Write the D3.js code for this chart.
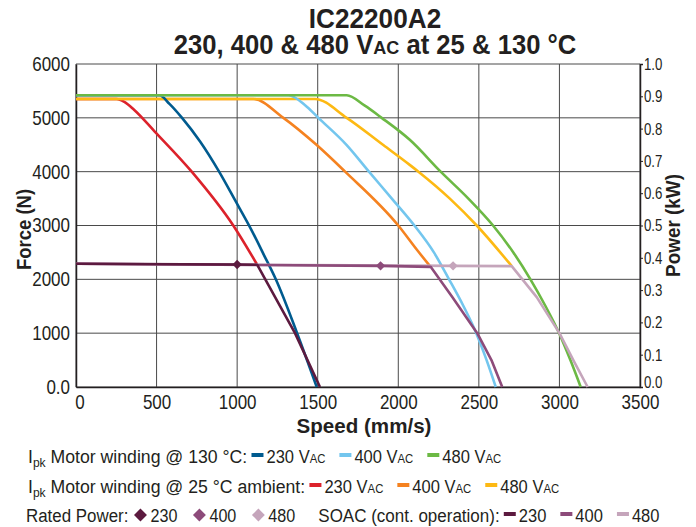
<!DOCTYPE html>
<html>
<head>
<meta charset="utf-8">
<script src="https://cdn.jsdelivr.net/npm/d3@7"></script>
<style>
  body { margin: 0; background: #fff; }
  svg text { font-family: "Liberation Sans", Arial, sans-serif; fill: #231f20; }
</style>
</head>
<body>
<div id="chart"></div>
<script>
// ---- data ----
const speedTicks = [0, 500, 1000, 1500, 2000, 2500, 3000, 3500]
const forceTicks = [0, 1000, 2000, 3000, 4000, 5000, 6000]
const powerTicks = [0, 0.1, 0.2, 0.3, 0.4, 0.5, 0.6, 0.7, 0.8, 0.9, 1.0]

// Ipk motor winding @ 130 °C  [speed mm/s, force N]
const hot230 = [[0, 5420], [517, 5420], [580, 5260], [658, 5000], [770, 4560], [888, 4000], [987, 3470], [1090, 2910], [1165, 2460], [1240, 2000], [1372, 1000], [1494, 0]]
const hot400 = [[0, 5420], [1318, 5420], [1420, 5240], [1504, 5000], [1680, 4494], [1818, 4000], [1960, 3500], [2100, 3000], [2221, 2500], [2315, 2000], [2405, 1500], [2484, 1000], [2548, 500], [2605, 0]]
const hot480 = [[0, 5420], [1680, 5420], [1790, 5230], [1897, 5000], [2073, 4587], [2263, 4000], [2435, 3500], [2588, 3000], [2714, 2500], [2820, 2000], [2914, 1500], [2998, 1000], [3068, 500], [3132, 0]]

// Ipk motor winding @ 25 °C ambient
const amb230 = [[0, 5350], [252, 5350], [300, 5295], [360, 5150], [490, 4740], [718, 4000], [976, 3000], [1121, 2290]]
const amb400 = [[0, 5350], [1100, 5350], [1287, 5000], [1494, 4494], [1670, 4000], [2000, 3000], [2118, 2540], [2201, 2230]]
const amb480 = [[0, 5350], [1483, 5350], [1680, 5000], [1907, 4494], [2073, 4122], [2125, 4000], [2320, 3500], [2487, 3000], [2704, 2245]]

// SOAC (continuous operation)
const soac230 = [[0, 2290], [1000, 2275], [1125, 2270], [1359, 1000], [1514, 0]]
const soac400 = [[0, 2290], [1890, 2250], [2201, 2232], [2335, 1670], [2490, 1000], [2578, 500], [2645, 0]]
const soac480 = [[0, 2290], [2340, 2250], [2704, 2245], [2859, 1670], [3000, 1000], [3086, 500], [3175, 0]]

// rated power points
const rated = [[1000, 2275], [1890, 2250], [2340, 2250]]

const voltages = ["230", "400", "480"]
const hotColors = ["#005b8f", "#73c6ee", "#6cb944"]
const ambColors = ["#dc222b", "#f58220", "#fdb913"]
const soacColors = ["#5c1a3f", "#8d4b7a", "#c5a5bb"]

;(function () {

  const margin = { top: 64, right: 56, bottom: 140, left: 76 }
  const width = 696 - margin.left - margin.right
  const height = 527 - margin.top - margin.bottom

  // squeeze text horizontally (the original uses a condensed face).
  // scales the text element along its own x axis; returns the new width
  function narrow (sel, k) {
    let total = 0
    sel.each(function () {
      const t = d3.select(this)
      const w = this.getComputedTextLength()
      const x0 = +t.attr("x") || 0
      const tf = t.attr("transform")
      t.attr("x", x0 / k)
       .attr("transform", (tf ? tf + " " : "") + "scale(" + k + ",1)")
      total += w * k
    })
    return total
  }

  const root = d3.select("#chart").append("svg")
      .attr("width", 696)
      .attr("height", 527)

  const svg = root.append("g")
      .attr("transform", "translate(" + margin.left + "," + margin.top + ")")

  const x = d3.scaleLinear().domain([0, 3500]).range([0, width])
  const y = d3.scaleLinear().domain([0, 6000]).range([height, 0])
  const yPower = d3.scaleLinear().domain([0, 1]).range([height, 0])

  // grid
  svg.append("g").selectAll("line")
    .data(speedTicks)
    .join("line")
    .attr("x1", d => x(d)).attr("x2", d => x(d))
    .attr("y1", 0).attr("y2", height)
    .attr("stroke", "#4a4a4a").attr("stroke-width", 1)

  svg.append("g").selectAll("line")
    .data(forceTicks)
    .join("line")
    .attr("x1", 0).attr("x2", width)
    .attr("y1", d => y(d)).attr("y2", d => y(d))
    .attr("stroke", "#4a4a4a").attr("stroke-width", 1)

  // axes
  const yAxis = d3.axisLeft(y).tickValues(forceTicks).tickSize(0).tickPadding(6)
    .tickFormat(d => d === 0 ? "0.0" : d)
  svg.append("g")
    .attr("class", "axis y-axis")
    .call(yAxis)
    .call(g => g.select(".domain").attr("stroke", "#231f20").attr("stroke-width", 1.5))
    .selectAll("text").attr("font-size", 20).attr("fill", "#3a3a3a")
    .call(narrow, 0.85)

  const xAxis = d3.axisBottom(x).tickValues(speedTicks).tickSize(0).tickPadding(8)
    .tickFormat(d => d)
  svg.append("g")
    .attr("class", "axis x-axis")
    .attr("transform", "translate(0," + height + ")")
    .call(xAxis)
    .call(g => g.select(".domain").attr("stroke", "#231f20").attr("stroke-width", 1.5))
    .call(g => g.selectAll(".tick text").filter(d => d === 0).attr("dx", 4))
    .selectAll("text").attr("font-size", 20).attr("fill", "#3a3a3a")
    .call(narrow, 0.85)

  const pAxis = d3.axisRight(yPower).tickValues(powerTicks).tickSize(3).tickPadding(1)
    .tickFormat(d3.format(".1f"))
  svg.append("g")
    .attr("class", "axis p-axis")
    .attr("transform", "translate(" + width + ",0)")
    .call(pAxis)
    .call(g => g.select(".domain").attr("stroke", "#231f20").attr("stroke-width", 1.5))
    .call(g => g.selectAll(".tick line").attr("stroke", "#231f20"))
    .call(g => g.selectAll(".tick text").filter(d => d === 0).attr("y", -5))
    .selectAll("text").attr("font-size", 17).attr("fill", "#3a3a3a")
    .call(narrow, 0.78)

  // curves
  const smooth = d3.line().x(d => x(d[0])).y(d => y(d[1])).curve(d3.curveMonotoneX)
  const straight = d3.line().x(d => x(d[0])).y(d => y(d[1]))

  const motorSeries = [
    [amb230, ambColors[0]], [amb400, ambColors[1]], [amb480, ambColors[2]],
    [hot230, hotColors[0]], [hot400, hotColors[1]], [hot480, hotColors[2]]
  ]
  svg.append("g").selectAll("path")
    .data(motorSeries)
    .join("path")
    .attr("d", d => smooth(d[0]))
    .attr("fill", "none")
    .attr("stroke", d => d[1])
    .attr("stroke-width", 2.6)

  const soacSeries = [[soac480, soacColors[2]], [soac400, soacColors[1]], [soac230, soacColors[0]]]
  svg.append("g").selectAll("path")
    .data(soacSeries)
    .join("path")
    .attr("d", d => straight(d[0]))
    .attr("fill", "none")
    .attr("stroke", d => d[1])
    .attr("stroke-width", 2.6)
    .attr("stroke-linejoin", "round")

  const diamond = d3.symbol(d3.symbolSquare)
  svg.append("g").selectAll("path")
    .data(rated)
    .join("path")
    .attr("d", diamond.size(44)())
    .attr("transform", d => "translate(" + x(d[0]) + "," + y(d[1]) + ") rotate(45)")
    .attr("fill", (d, i) => soacColors[i])

  // axis titles
  root.append("text")
    .attr("transform", "translate(31," + (margin.top + height / 2 + 4) + ") rotate(-90)")
    .attr("text-anchor", "middle")
    .attr("font-size", 21).attr("font-weight", "bold")
    .text("Force (N)")
    .call(narrow, 0.88)

  root.append("text")
    .attr("transform", "translate(680," + (margin.top + height / 2) + ") rotate(-90)")
    .attr("text-anchor", "middle")
    .attr("font-size", 21).attr("font-weight", "bold")
    .text("Power (kW)")
    .call(narrow, 0.9)

  root.append("text")
    .attr("x", 364).attr("y", 433)
    .attr("text-anchor", "middle")
    .attr("font-size", 21).attr("font-weight", "bold")
    .text("Speed (mm/s)")
    .call(narrow, 0.98)

  // title
  root.append("text")
    .attr("x", 375).attr("y", 28)
    .attr("text-anchor", "middle")
    .attr("font-size", 27).attr("font-weight", "bold")
    .text("IC22200A2")
    .call(narrow, 0.97)

  const t2 = root.append("text")
    .attr("x", 375).attr("y", 54)
    .attr("text-anchor", "middle")
    .attr("font-size", 27).attr("font-weight", "bold")
  t2.append("tspan").text("230, 400 & 480 V")
  t2.append("tspan").attr("font-size", 19).text("AC")
  t2.append("tspan").text(" at 25 & 130 °C")
  narrow(t2, 0.95)

  // legend
  const kItem = 0.87

  function ipkLabel (g, x0, y0, rest) {
    const t = g.append("text").attr("x", x0).attr("y", y0).attr("font-size", 19)
    t.append("tspan").text("I")
    t.append("tspan").attr("font-size", 13).attr("dy", 4).text("pk")
    t.append("tspan").attr("dy", -4).text(" " + rest)
    return t
  }

  function plainLabel (g, x0, y0, s) {
    return g.append("text").attr("x", x0).attr("y", y0).attr("font-size", 19).text(s)
  }

  function lineRow (g, x0, y0, label, kLabel, colors, withUnit) {
    const t = label(g, x0, y0)
    let cx = x0 + narrow(t, kLabel) + 4
    voltages.forEach((v, i) => {
      g.append("rect").attr("x", cx).attr("y", y0 - 10).attr("width", 12).attr("height", 4)
        .attr("fill", colors[i])
      const tt = g.append("text").attr("x", cx + 15).attr("y", y0).attr("font-size", 19)
      tt.append("tspan").text(v + (withUnit ? " V" : ""))
      if (withUnit) tt.append("tspan").attr("font-size", 13).text("AC")
      cx += 15 + narrow(tt, kItem) + 14
    })
    return cx
  }

  const legend = root.append("g")
  lineRow(legend, 28, 463, (g, a, b) => ipkLabel(g, a, b, "Motor winding @ 130 °C:"), 0.93, hotColors, true)
  lineRow(legend, 28, 493, (g, a, b) => ipkLabel(g, a, b, "Motor winding @ 25 °C ambient:"), 0.93, ambColors, true)

  // rated power row
  const rp = plainLabel(legend, 26, 522, "Rated Power:")
  let cx = 26 + narrow(rp, 0.89) + 5
  voltages.forEach((v, i) => {
    legend.append("path")
      .attr("d", diamond.size(84)())
      .attr("transform", "translate(" + (cx + 7) + ",515) rotate(45)")
      .attr("fill", soacColors[i])
    const tt = plainLabel(legend, cx + 17, 522, v)
    cx += 17 + narrow(tt, 0.85) + 15
  })
  lineRow(legend, cx + 8, 522, (g, a, b) => plainLabel(g, a, b, "SOAC (cont. operation):"), 0.895, soacColors, false)

})();
</script>
</body>
</html>
